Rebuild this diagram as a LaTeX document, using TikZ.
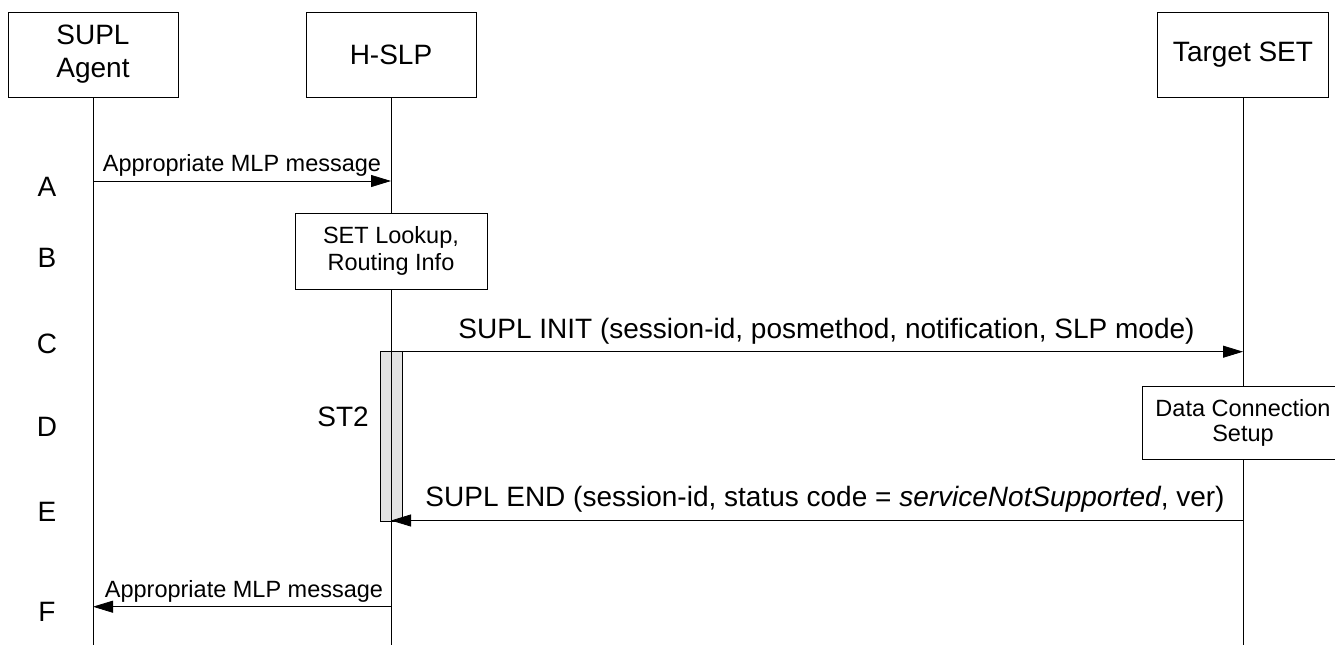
\documentclass[tikz,border=0pt]{standalone}
\usepackage{fontspec}
\setmainfont{Liberation Sans}
\usetikzlibrary{arrows.meta}
\begin{document}
\begin{tikzpicture}[x=1pt,y=-1pt,
  big/.style={font=\fontsize{28}{33}\selectfont},
  small/.style={font=\fontsize{23.5}{27.5}\selectfont},
  entity/.style={draw, line width=0.8pt, align=center, inner sep=0pt, fill=white},
  msg/.style={line width=0.8pt, -{Triangle[length=20pt,width=12pt]}},
  life/.style={line width=0.8pt},
]
\useasboundingbox (0,0) rectangle (1335,645);
\clip (0,0) rectangle (1335,645);

% entities
\node[entity, big, minimum width=170, minimum height=85] (agent) at (93,54.5) {SUPL\\Agent};
\node[entity, big, minimum width=170, minimum height=85] (hslp) at (391,54.5) {H-SLP};
\node[entity, big, minimum width=171, minimum height=85] (target) at (1243,54.5) {Target SET};

% lifeline ends
\coordinate (agentEnd) at (93,645);
\coordinate (hslpEnd) at (391,645);
\coordinate (targetEnd) at (1243,645);

\draw[life] (agent.south) -- (agentEnd);
\draw[life] (hslp.south) -- (hslpEnd);
\draw[life] (target.south) -- (targetEnd);

% processing boxes
\node[entity, small, minimum width=192, minimum height=76] (lookup) at (391,251) {SET Lookup,\\Routing Info};
\node[entity, font=\fontsize{23.5}{25}\selectfont, minimum width=202, minimum height=73] (dcs) at (1243,422.5) {Data Connection\\Setup};

% activation (ST2)
\node[draw, line width=0.8pt, fill=black!11, minimum width=21.6, minimum height=170, inner sep=0pt] (act) at (391.5,436.7) {};
\draw[life] (391,351.7) -- (391,521.7);
\node[big, anchor=base] (st2) at (343,426) {ST2};

% message anchor points
\coordinate (a1) at (93,181);
\coordinate (a2) at (391,181);
\coordinate (c1) at (391,351.7);
\coordinate (c2) at (1243,351.7);
\coordinate (e1) at (1243,520.5);
\coordinate (e2) at (391,520.5);
\coordinate (f1) at (391,606.7);
\coordinate (f2) at (93,606.7);

\draw[msg] (a1) -- (a2);
\draw[msg] (c1) -- (c2);
\draw[msg] (e1) -- (e2);
\draw[msg] (f1) -- (f2);

% message labels
\node[small, anchor=base] (tA) at (242,171.5) {Appropriate MLP message};
\node[big, anchor=base] (tC) at (826.5,338) {SUPL INIT (session-id, posmethod, notification, SLP mode)};
\node[big, anchor=base] (tE) at (825,506.7) {SUPL END (session-id, status code = \textit{serviceNotSupported}, ver)};
\node[small, anchor=base] (tF) at (244,597.3) {Appropriate MLP message};

% step letters
\node[big, anchor=base] (lA) at (47,196) {A};
\node[big, anchor=base] (lB) at (47,267) {B};
\node[big, anchor=base] (lC) at (47,353) {C};
\node[big, anchor=base] (lD) at (47,436) {D};
\node[big, anchor=base] (lE) at (47,521) {E};
\node[big, anchor=base] (lF) at (47,621) {F};
\end{tikzpicture}
\end{document}
